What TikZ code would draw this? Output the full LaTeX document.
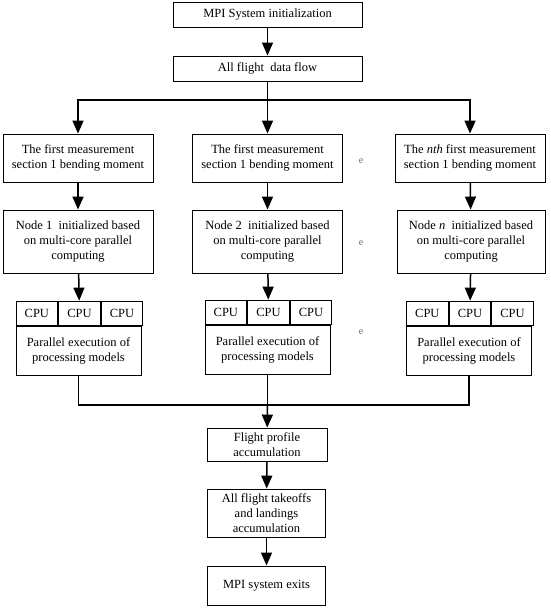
\documentclass[tikz,border=0pt]{standalone}
\usepackage{fontspec}
\setmainfont{Liberation Serif}
\usetikzlibrary{arrows.meta}

\tikzset{
  box/.style={draw, line width=0.9pt, align=center, inner sep=1pt,
    font=\fontsize{12.5}{15}\selectfont},
  cpucell/.style={box, minimum width=41.7pt, minimum height=24pt},
  flowline/.style={line width=1.5pt},
  flowarrow/.style={flowline, -{Triangle[width=11pt,length=13pt]}},
  gapmark/.style={font=\fontsize{10}{10}\selectfont, text=black!60},
}

\begin{document}
\begin{tikzpicture}[x=1pt, y=-1pt]
  \useasboundingbox (0,0) rectangle (550,609);
  % Start and incoming data
  \node[box, minimum width=189pt, minimum height=25pt] (init) at (267.5,14.5) {MPI System initialization};
  \node[box, minimum width=189pt, minimum height=25pt] (flow) at (267.5,68.5) {All flight\ \ data flow};
  \coordinate (split) at (267.5,100);
  % Row 1: measurement sections
  \node[box, minimum width=150pt, minimum height=48pt] (meas1) at (78,158) {The first measurement\\section 1 bending moment};
  \node[box, minimum width=150pt, minimum height=48pt] (meas2) at (267.5,158) {The first measurement\\section 1 bending moment};
  \node[box, minimum width=150pt, minimum height=48pt] (meas3) at (470,158) {The \textit{nth} first measurement\\section 1 bending moment};
  % Row 2: node initialization
  \node[box, minimum width=150pt, minimum height=63pt] (init1) at (78,241.5) {Node 1\ \ initialized based\\on multi-core parallel\\computing};
  \node[box, minimum width=150pt, minimum height=63pt] (init2) at (267.5,241.5) {Node 2\ \ initialized based\\on multi-core parallel\\computing};
  \node[box, minimum width=148pt, minimum height=63pt] (init3) at (471,241.5) {Node \textit{n}\ \ initialized based\\on multi-core parallel\\computing};
  % Row 3: CPU blocks
  \node[box, minimum width=125pt, minimum height=49pt] (exec1) at (78.5,350.5) {Parallel execution of\\processing models};
  \node[cpucell, anchor=south west] (cpu1a) at (exec1.north west) {CPU};
  \node[cpucell, anchor=west] (cpu1b) at (cpu1a.east) {CPU};
  \node[cpucell, anchor=west] (cpu1c) at (cpu1b.east) {CPU};
  \node[box, minimum width=125pt, minimum height=49pt] (exec2) at (267.5,349.5) {Parallel execution of\\processing models};
  \node[cpucell, anchor=south west] (cpu2a) at (exec2.north west) {CPU};
  \node[cpucell, anchor=west] (cpu2b) at (cpu2a.east) {CPU};
  \node[cpucell, anchor=west] (cpu2c) at (cpu2b.east) {CPU};
  \node[box, minimum width=125pt, minimum height=49pt] (exec3) at (469,350.5) {Parallel execution of\\processing models};
  \node[cpucell, anchor=south west] (cpu3a) at (exec3.north west) {CPU};
  \node[cpucell, anchor=west] (cpu3b) at (cpu3a.east) {CPU};
  \node[cpucell, anchor=west] (cpu3c) at (cpu3b.east) {CPU};
  % Gap marks between columns 2 and 3
  \node[gapmark] (gap1) at (361,161) {e};
  \node[gapmark] (gap2) at (361,243) {e};
  \node[gapmark] (gap3) at (361,332) {e};
  % Merge and final steps
  \coordinate (join) at (267.5,405);
  \node[box, minimum width=120pt, minimum height=33pt] (profile) at (267,444.5) {Flight profile\\accumulation};
  \node[box, minimum width=118pt, minimum height=48pt] (landings) at (266.5,513) {All flight takeoffs\\and landings\\accumulation};
  \node[box, minimum width=118pt, minimum height=39pt] (exits) at (266.5,585.5) {MPI system exits};
  % Connectors
  \draw[flowarrow] (init) -- (flow);
  \draw[flowline] (flow) -- (split);
  \draw[flowarrow] (split) -| (meas1);
  \draw[flowarrow] (split) -- (meas2);
  \draw[flowarrow] (split) -| (meas3);
  \draw[flowarrow] (meas1) -- (init1);
  \draw[flowarrow] (meas2) -- (init2);
  \draw[flowarrow] (meas3) -- (init3);
  \draw[flowarrow] (init1) -- (cpu1b);
  \draw[flowarrow] (init2) -- (cpu2b);
  \draw[flowarrow] (init3) -- (cpu3b);
  \draw[flowline] (exec1) |- (join);
  \draw[flowline] (exec3) |- (join);
  \draw[flowline] (exec2) -- (join);
  \draw[flowarrow] (join) -- (profile);
  \draw[flowarrow] (profile) -- (landings);
  \draw[flowarrow] (landings) -- (exits);
\end{tikzpicture}
\end{document}
